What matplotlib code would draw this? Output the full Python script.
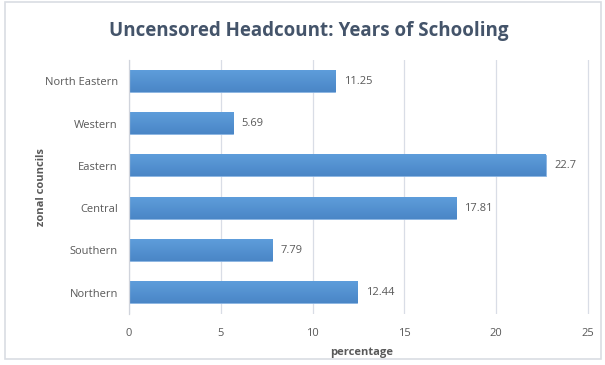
import matplotlib.pyplot as plt
from matplotlib.patches import Rectangle
from matplotlib.colors import LinearSegmentedColormap
import numpy as np

zones = ['Northern', 'Southern', 'Central', 'Eastern', 'Western', 'North Eastern']
values = [12.44, 7.79, 17.81, 22.7, 5.69, 11.25]
xticks = [0, 5, 10, 15, 20, 25]

plt.rcParams['font.family'] = ['Open Sans', 'DejaVu Sans']

fig = plt.figure(figsize=(6.05, 3.65), dpi=100)
ax = fig.add_axes([0.213, 0.14, 0.768, 0.695])

# outer chart frame
fig.patches.append(Rectangle((0.009, 0.016), 0.985, 0.978, transform=fig.transFigure,
                             fill=False, edgecolor='#d9dde3', linewidth=1.2))

ypos = np.arange(len(zones))
bars = ax.barh(ypos, values, height=0.5, color='#5591d3', edgecolor='#8ab4e2', linewidth=0.6, zorder=2)

# vertical gradient on each bar
grad = np.linspace(0, 1, 50).reshape(-1, 1)
cmap = LinearSegmentedColormap.from_list('bar', ['#4a86c6', '#5e9ddb'])
for b in bars:
    x0, y0, w, h = b.get_x(), b.get_y(), b.get_width(), b.get_height()
    ax.imshow(grad, cmap=cmap, aspect='auto', extent=(x0, x0 + w, y0, y0 + h),
              origin='lower', zorder=2.5)

for y, v in zip(ypos, values):
    ax.text(v + 0.45, y, f'{v:g}', va='center', ha='left', fontsize=8, color='#595959')

ax.set_xlim(0, 25.3)
ax.set_ylim(-0.5, 5.5)
ax.set_xticks(xticks)
ax.set_xticklabels([str(t) for t in xticks])
ax.set_yticks(ypos)
ax.set_yticklabels(zones)
ax.tick_params(axis='both', length=0, labelsize=8, colors='#595959')
ax.tick_params(axis='x', pad=10)
ax.tick_params(axis='y', pad=8)
ax.grid(axis='x', color='#d9dde6', linewidth=0.9, zorder=0)
ax.set_axisbelow(True)
for s in ['top', 'right', 'bottom']:
    ax.spines[s].set_visible(False)
ax.spines['left'].set_color('#d0d4dc')
ax.spines['left'].set_linewidth(0.9)

ax.set_xlabel('percentage', fontsize=8, fontweight='bold', color='#595959', labelpad=6)
ax.set_ylabel('zonal councils', fontsize=8, fontweight='bold', color='#595959', labelpad=-2)

fig.text(0.511, 0.915, 'Uncensored Headcount: Years of Schooling', ha='center', va='center',
         fontsize=13.5, fontweight='bold', color='#44546a')

fig.savefig('out.png', dpi=100)
